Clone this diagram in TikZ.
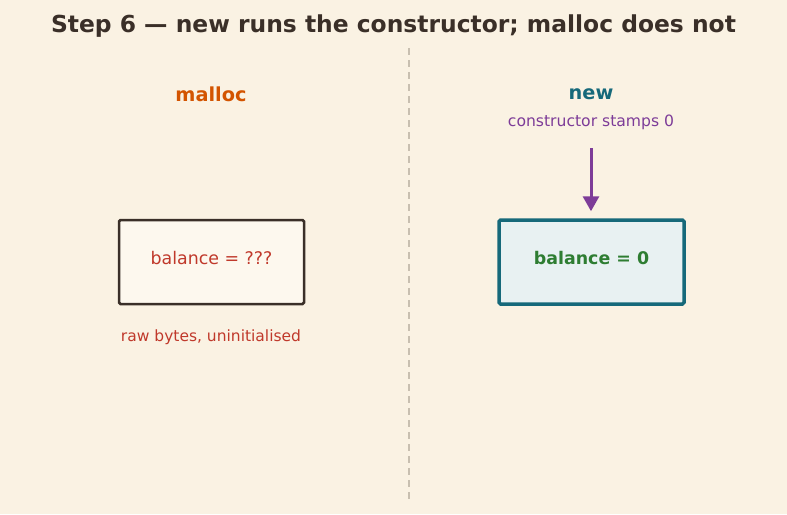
\documentclass[tikz,border=0pt]{standalone}
\usepackage{fontspec}
\setmainfont{DejaVu Sans}
\usetikzlibrary{arrows.meta}
\definecolor{bg}{HTML}{FAF2E3}
\definecolor{ink}{HTML}{3A2F28}
\definecolor{orng}{HTML}{D35400}
\definecolor{teal}{HTML}{16697A}
\definecolor{purp}{HTML}{7D3C98}
\definecolor{redt}{HTML}{C0392B}
\definecolor{grn}{HTML}{2E7D32}
\definecolor{divc}{HTML}{C8BFB0}
\definecolor{boxl}{HTML}{FDF8EE}
\definecolor{boxr}{HTML}{E8F1F2}
\tikzset{
  fs/.style={font=\fontsize{#1}{#1}\selectfont},
  fsb/.style={font=\fontsize{#1}{#1}\selectfont\bfseries},
  membox/.style={minimum width=185pt, minimum height=84pt, rounded corners=1.5pt, inner sep=0pt},
}
\begin{document}
\begin{tikzpicture}[x=1pt,y=-1pt]
\useasboundingbox[fill=bg] (0,0) rectangle (787,514);
\node[fsb=23.4, text=ink] (title) at (393.5,26) {Step 6 — new runs the constructor; malloc does not};
\draw[divc, line width=2pt, dash pattern=on 7pt off 5pt] (409,48) coordinate (d1) -- (409,500) coordinate (d2);
\node[fsb=19.3, text=orng] (lh) at (211,94) {malloc};
\node[fsb=19.3, text=teal] (rh) at (591,94.5) {new};
\node[fs=15.6, text=purp] (cs) at (591,122) {constructor stamps 0};
\node[membox, draw=ink, fill=boxl, line width=2.5pt] (lb) at (211.5,262) {};
\node[membox, draw=teal, fill=boxr, line width=3.5pt] (rb) at (591.5,262) {};
\node[fs=17.4, text=redt] (lt) at (211.5,258) {balance = ???};
\node[fsb=17.4, text=grn] (rt) at (591.5,258) {balance = 0};
\node[fs=15.5, text=redt] (raw) at (211,337) {raw bytes, uninitialised};
\coordinate (as) at (591,148);
\draw[purp, line width=3pt, -{Triangle[length=15pt,width=16pt]}] (as) -- ([yshift=7pt]rb.north -| as);
\end{tikzpicture}
\end{document}
